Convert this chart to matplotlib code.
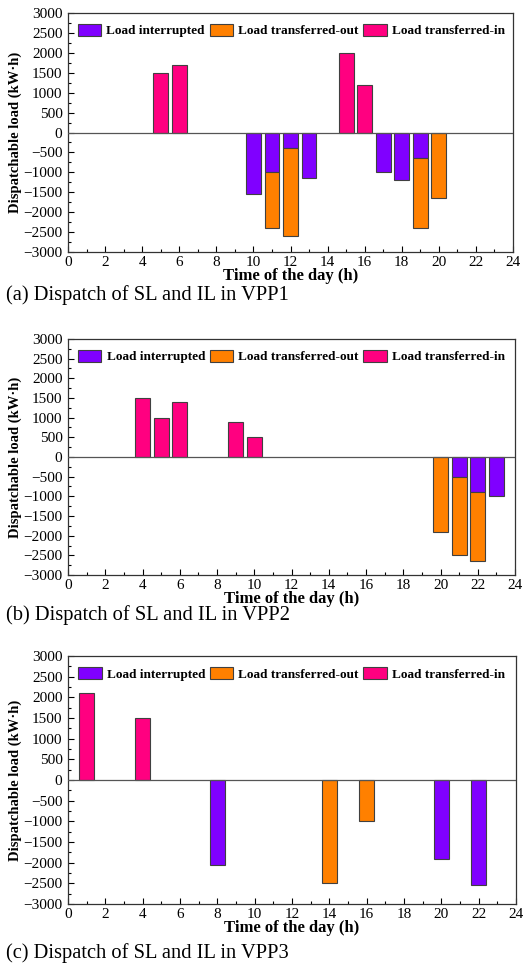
import matplotlib.pyplot as plt
import numpy as np

plt.rcParams['font.family'] = ['Liberation Serif', 'DejaVu Serif']

hours = np.arange(0, 25)

# Hour -> value (kW·h); transferred-out stacks below interrupted load
vpp1_in_h = [5, 6, 15, 16]
vpp1_in = [1500, 1700, 2000, 1200]
vpp1_il_h = [10, 11, 12, 13, 17, 18, 19]
vpp1_il = [-1550, -1000, -400, -1150, -1000, -1200, -650]
vpp1_out_h = [11, 12, 19, 20]
vpp1_out = [-1400, -2200, -1750, -1650]

vpp2_in_h = [4, 5, 6, 9, 10]
vpp2_in = [1500, 1000, 1400, 900, 500]
vpp2_il_h = [21, 22, 23]
vpp2_il = [-500, -900, -1000]
vpp2_out_h = [20, 21, 22]
vpp2_out = [-1900, -2000, -1750]

vpp3_in_h = [1, 4]
vpp3_in = [2100, 1500]
vpp3_il_h = [8, 20, 22]
vpp3_il = [-2050, -1900, -2550]
vpp3_out_h = [14, 16]
vpp3_out = [-2500, -1000]

captions = ['(a) Dispatch of SL and IL in VPP1',
            '(b) Dispatch of SL and IL in VPP2',
            '(c) Dispatch of SL and IL in VPP3']

c_il = '#8000ff'
c_out = '#ff8000'
c_in = '#ff0080'
edge = '#404040'

panels = [
    (vpp1_in_h, vpp1_in, vpp1_il_h, vpp1_il, vpp1_out_h, vpp1_out),
    (vpp2_in_h, vpp2_in, vpp2_il_h, vpp2_il, vpp2_out_h, vpp2_out),
    (vpp3_in_h, vpp3_in, vpp3_il_h, vpp3_il, vpp3_out_h, vpp3_out),
]

# axes boxes in pixels: left, top, right, bottom
boxes = [(68, 13, 513, 252), (68, 339, 515, 575), (68, 656, 516, 904)]
cap_y = [295, 615, 953]
W, H = 526, 966

fig = plt.figure(figsize=(W / 100, H / 100), dpi=100)

for (in_h, in_v, il_h, il_v, out_h, out_v), (l, t, r, b), cy, cap in zip(panels, boxes, cap_y, captions):
    ax = fig.add_axes([l / W, 1 - b / H, (r - l) / W, (b - t) / H])
    il_map = dict(zip(il_h, il_v))
    bottoms = [il_map.get(h, 0) for h in out_h]
    ax.bar(il_h, il_v, width=0.8, color=c_il, edgecolor=edge, linewidth=0.8,
           label='Load interrupted', zorder=2)
    ax.bar(out_h, out_v, width=0.8, bottom=bottoms, color=c_out, edgecolor=edge,
           linewidth=0.8, label='Load transferred-out', zorder=2)
    ax.bar(in_h, in_v, width=0.8, color=c_in, edgecolor=edge, linewidth=0.8,
           label='Load transferred-in', zorder=2)
    ax.axhline(0, color='#555555', linewidth=0.9, zorder=3)

    ax.set_xlim(0, 24)
    ax.set_ylim(-3000, 3000)
    ax.set_xticks(np.arange(0, 25, 2))
    ax.set_xticks(hours, minor=True)
    ax.set_yticks(np.arange(-3000, 3001, 500))
    ax.set_yticks(np.arange(-3000, 3001, 250), minor=True)
    ax.tick_params(direction='in', labelsize=11, length=4, width=0.8, top=False, right=False)
    ax.tick_params(axis='x', pad=3)
    ax.tick_params(axis='y', pad=4)
    ax.tick_params(which='minor', direction='in', length=2, width=0.8)
    for s in ax.spines.values():
        s.set_linewidth(0.9)
        s.set_color('#333333')

    ax.set_xlabel('Time of the day (h)', fontsize=12, fontweight='bold', labelpad=-1)
    ax.set_ylabel('Dispatchable load (kW·h)', fontsize=10.5, fontweight='bold', labelpad=1)

    ax.legend(loc='upper left', ncol=3, frameon=False, prop={'weight': 'bold', 'size': 9.5},
              handlelength=1.8, handleheight=0.95, handletextpad=0.38, columnspacing=0.35,
              borderaxespad=0.2, borderpad=0.2, bbox_to_anchor=(0.01, 0.975))

    fig.text(6 / W, 1 - cy / H, cap, fontsize=14.8, va='center', ha='left')

fig.savefig('out.png', dpi=100)
